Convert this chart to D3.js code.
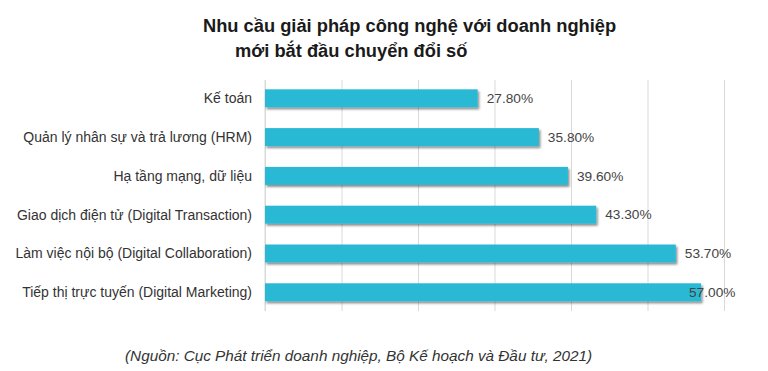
<!DOCTYPE html>
<html>
<head>
<meta charset="utf-8">
<script src="https://cdn.jsdelivr.net/npm/d3@7"></script>
<style>
  body { margin: 0; background: #fff; }
  text { font-family: "Liberation Sans", Arial, sans-serif; }
</style>
</head>
<body>
<div id="chart"></div>
<script>
let categories = [
    'Kế toán',
    'Quản lý nhân sự và trả lương (HRM)',
    'Hạ tầng mạng, dữ liệu',
    'Giao dịch điện tử (Digital Transaction)',
    'Làm việc nội bộ (Digital Collaboration)',
    'Tiếp thị trực tuyến (Digital Marketing)'
];
let values = [27.8, 35.8, 39.6, 43.3, 53.7, 57.0];
let xTicks = [0, 10, 20, 30, 40, 50, 60];
let titleLines = ['Nhu cầu giải pháp công nghệ với doanh nghiệp', 'mới bắt đầu chuyển đổi số'];
let source = '(Nguồn: Cục Phát triển doanh nghiệp, Bộ Kế hoạch và Đầu tư, 2021)';

let elWidth = 768, elHeight = 371;
let margin = {top: 80, right: 44, bottom: 60, left: 265};
let width = elWidth - margin.left - margin.right;
let height = elHeight - margin.top - margin.bottom;

let svg = d3.select('#chart').append('svg')
    .attr('width', elWidth)
    .attr('height', elHeight);

let defs = svg.append('defs');
let f = defs.append('filter').attr('id', 'shadow')
    .attr('x', '-5%').attr('y', '-30%').attr('width', '110%').attr('height', '180%');
f.append('feDropShadow')
    .attr('dx', 1.5).attr('dy', 2)
    .attr('stdDeviation', 1.2)
    .attr('flood-color', '#000')
    .attr('flood-opacity', 0.45);

// title
svg.append('text')
    .attr('x', 203).attr('y', 32)
    .attr('font-size', 18.3).attr('font-weight', 'bold').attr('fill', '#1a1a1a')
    .text(titleLines[0]);
svg.append('text')
    .attr('x', 235).attr('y', 57)
    .attr('font-size', 18.3).attr('font-weight', 'bold').attr('fill', '#1a1a1a')
    .text(titleLines[1]);

let g = svg.append('g').attr('transform', 'translate(' + margin.left + ',' + margin.top + ')');

let x = d3.scaleLinear().domain([0, 60]).range([0, width]);
let y = d3.scaleBand().domain(categories).range([0, height - 0.4]).paddingInner(0.536).paddingOuter(0.24);

// gridlines
g.append('g')
    .call(d3.axisBottom(x).tickValues(xTicks).tickSize(height).tickFormat(''))
    .call(s => s.select('.domain').remove())
    .selectAll('.tick line')
    .attr('stroke', '#d9d9d9');

// left axis line
g.append('line')
    .attr('x1', 0).attr('x2', 0).attr('y1', 0).attr('y2', height)
    .attr('stroke', '#d9d9d9');

// bars
g.selectAll('rect.bar')
    .data(values)
    .enter().append('rect')
    .attr('class', 'bar')
    .attr('x', 0)
    .attr('y', (d, i) => y(categories[i]))
    .attr('width', d => x(d))
    .attr('height', y.bandwidth())
    .attr('fill', '#2bb9d4')
    .attr('filter', 'url(#shadow)');

// category labels
g.selectAll('text.cat')
    .data(categories)
    .enter().append('text')
    .attr('class', 'cat')
    .attr('x', -13)
    .attr('y', d => y(d) + y.bandwidth() / 2)
    .attr('dy', '0.35em')
    .attr('text-anchor', 'end')
    .attr('font-size', 14)
    .attr('fill', '#333')
    .text(d => d);

// value labels
g.selectAll('text.val')
    .data(values)
    .enter().append('text')
    .attr('class', 'val')
    .attr('x', d => Math.min(x(d) + 9, width - 35))
    .attr('y', (d, i) => y(categories[i]) + y.bandwidth() / 2)
    .attr('dy', '0.35em')
    .attr('font-size', 13.7)
    .attr('fill', '#444')
    .text(d => d.toFixed(2) + '%');

// source
svg.append('text')
    .attr('x', 125).attr('y', 361)
    .attr('font-size', 15.3).attr('font-style', 'italic').attr('fill', '#333')
    .text(source);
</script>
</body>
</html>
